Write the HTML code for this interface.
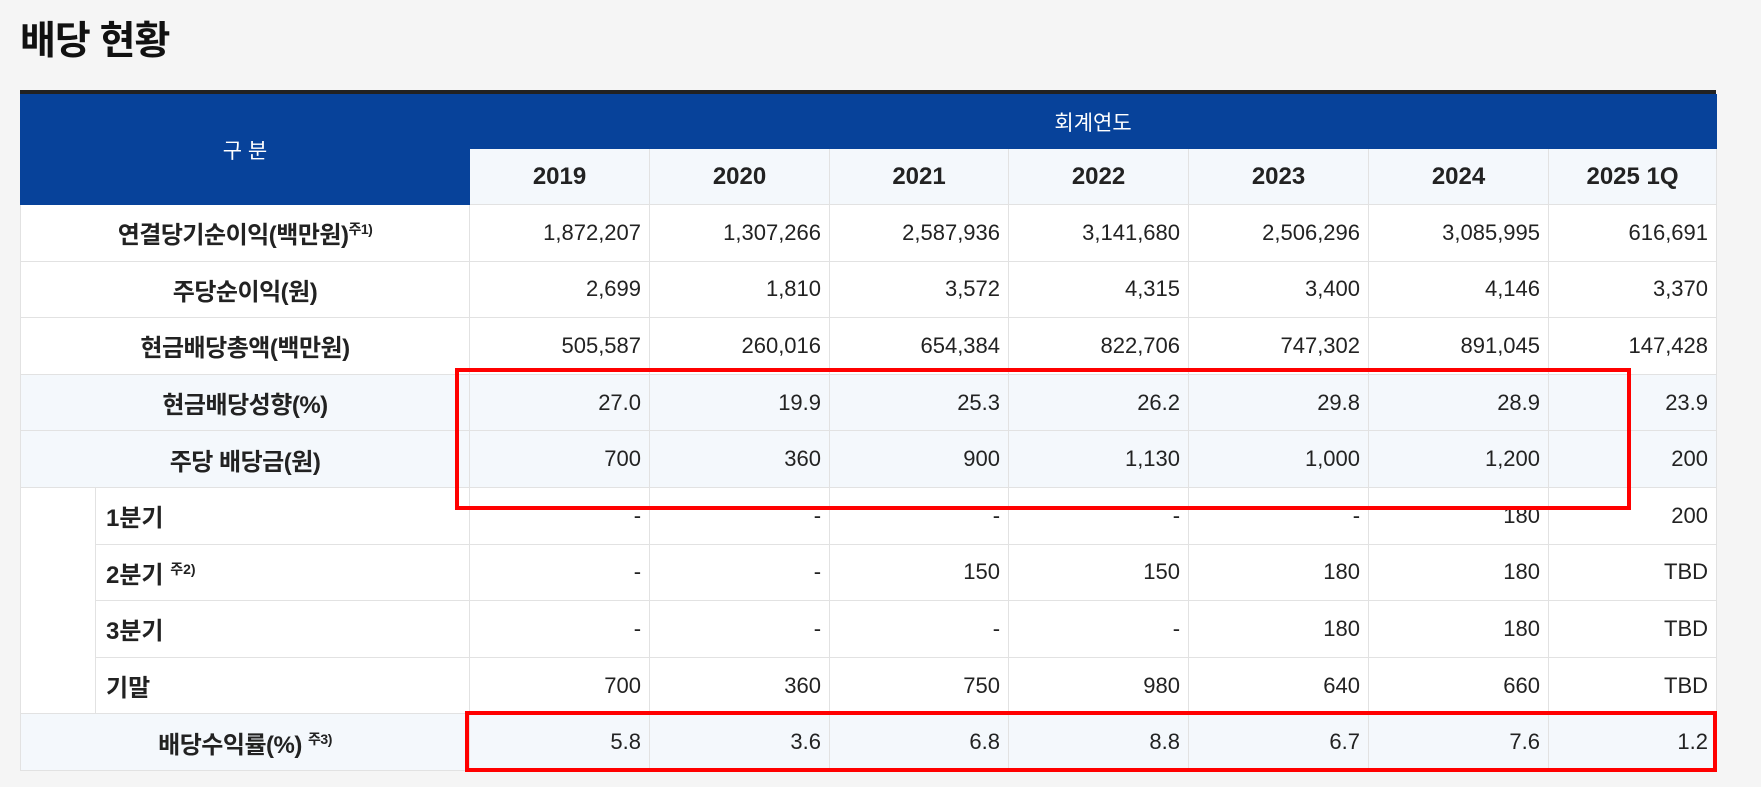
<!DOCTYPE html>
<html><head><meta charset="utf-8">
<style>
body{margin:0;width:1761px;height:787px;background:#f5f5f5;overflow:hidden;font-family:"Liberation Sans","Noto Sans CJK KR","NanumGothic",sans-serif;position:relative}
h1{position:absolute;left:20px;top:10px;margin:0;font-size:39px;font-weight:bold;color:#111;letter-spacing:-1px}
.bar{position:absolute;left:20px;top:90px;width:1696px;height:4px;background:#222}
table{position:absolute;left:20px;top:94px;border-collapse:collapse;table-layout:fixed;width:1696px}
td,th{border:1px solid #e2e2e2;padding:0 8px;font-size:22px;color:#222;height:56.6px;background:#fff;box-sizing:border-box;white-space:nowrap}
th.blue{background:#07429a;color:#fff;font-weight:normal;font-size:21px;border-color:#07429a}
th.yr{background:#f4f8fc;font-size:24px;font-weight:bold;color:#222;height:56px}
td.num{text-align:right}
td.lab{text-align:center;font-weight:bold;font-size:24px;letter-spacing:-0.5px}
td.sub{text-align:left;font-weight:bold;font-size:24px;padding-left:10px}
tr.hl td{background:#f4f8fc}
sup{font-size:14px;font-weight:bold}
.red{position:absolute;border:4px solid #f00;box-sizing:border-box}
</style></head><body>
<h1>배당 현황</h1>
<div class="bar"></div>
<table>
<colgroup><col style="width:75px"><col style="width:374px"><col style="width:180px"><col style="width:180px"><col style="width:179px"><col style="width:180px"><col style="width:180px"><col style="width:180px"><col style="width:168px"></colgroup>
<tr><th class="blue" colspan="2" rowspan="2">구 분</th><th class="blue" colspan="7" style="height:54px">회계연도</th></tr>
<tr><th class="yr">2019</th><th class="yr">2020</th><th class="yr">2021</th><th class="yr">2022</th><th class="yr">2023</th><th class="yr">2024</th><th class="yr">2025 1Q</th></tr>
<tr><td class="lab" colspan="2">연결당기순이익(백만원)<sup>주1)</sup></td><td class="num">1,872,207</td><td class="num">1,307,266</td><td class="num">2,587,936</td><td class="num">3,141,680</td><td class="num">2,506,296</td><td class="num">3,085,995</td><td class="num">616,691</td></tr>
<tr><td class="lab" colspan="2">주당순이익(원)</td><td class="num">2,699</td><td class="num">1,810</td><td class="num">3,572</td><td class="num">4,315</td><td class="num">3,400</td><td class="num">4,146</td><td class="num">3,370</td></tr>
<tr><td class="lab" colspan="2">현금배당총액(백만원)</td><td class="num">505,587</td><td class="num">260,016</td><td class="num">654,384</td><td class="num">822,706</td><td class="num">747,302</td><td class="num">891,045</td><td class="num">147,428</td></tr>
<tr class="hl"><td class="lab" colspan="2">현금배당성향(%)</td><td class="num">27.0</td><td class="num">19.9</td><td class="num">25.3</td><td class="num">26.2</td><td class="num">29.8</td><td class="num">28.9</td><td class="num">23.9</td></tr>
<tr class="hl"><td class="lab" colspan="2">주당 배당금(원)</td><td class="num">700</td><td class="num">360</td><td class="num">900</td><td class="num">1,130</td><td class="num">1,000</td><td class="num">1,200</td><td class="num">200</td></tr>
<tr><td rowspan="4"></td><td class="sub">1분기</td><td class="num">-</td><td class="num">-</td><td class="num">-</td><td class="num">-</td><td class="num">-</td><td class="num">180</td><td class="num">200</td></tr>
<tr><td class="sub">2분기 <sup>주2)</sup></td><td class="num">-</td><td class="num">-</td><td class="num">150</td><td class="num">150</td><td class="num">180</td><td class="num">180</td><td class="num">TBD</td></tr>
<tr><td class="sub">3분기</td><td class="num">-</td><td class="num">-</td><td class="num">-</td><td class="num">-</td><td class="num">180</td><td class="num">180</td><td class="num">TBD</td></tr>
<tr><td class="sub">기말</td><td class="num">700</td><td class="num">360</td><td class="num">750</td><td class="num">980</td><td class="num">640</td><td class="num">660</td><td class="num">TBD</td></tr>
<tr class="hl"><td class="lab" colspan="2">배당수익률(%) <sup>주3)</sup></td><td class="num">5.8</td><td class="num">3.6</td><td class="num">6.8</td><td class="num">8.8</td><td class="num">6.7</td><td class="num">7.6</td><td class="num">1.2</td></tr>
</table>
<div class="red" style="left:455px;top:368px;width:1176px;height:142px"></div>
<div class="red" style="left:465px;top:711px;width:1252px;height:61px"></div>
</body></html>
